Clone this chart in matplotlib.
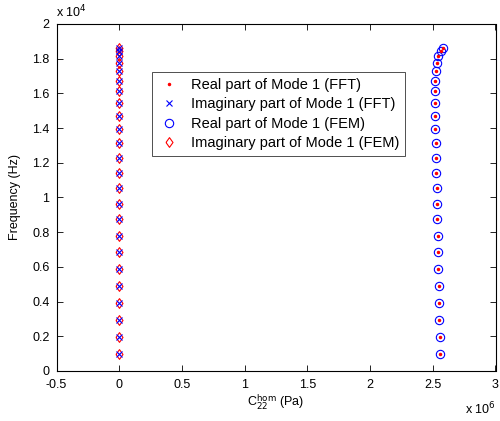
import matplotlib
matplotlib.use("Agg")
import matplotlib.pyplot as plt
from matplotlib.ticker import FuncFormatter

plt.rcParams["font.family"] = ["Liberation Sans", "DejaVu Sans"]
plt.rcParams["font.size"] = 9

# frequencies (Hz) of mode 1
freq = [1000, 1980, 2960, 3940, 4910, 5880, 6840, 7790, 8730, 9650,
        10550, 11430, 12290, 13120, 13920, 14690, 15420, 16110, 16740,
        17300, 17780, 18170, 18440, 18600]
# C22 hom (Pa)
real_fem = [2.556e6, 2.555e6, 2.553e6, 2.551e6, 2.548e6, 2.545e6, 2.542e6,
            2.539e6, 2.536e6, 2.533e6, 2.530e6, 2.527e6, 2.524e6, 2.522e6,
            2.520e6, 2.519e6, 2.518e6, 2.519e6, 2.521e6, 2.525e6, 2.533e6,
            2.545e6, 2.563e6, 2.582e6]
real_fft = list(real_fem)
imag_fem = [0.0] * len(freq)
imag_fft = [0.0] * len(freq)

# matlab-like diamond (wider than mpl "d")
diamond = [(-0.72, 0), (0, 1), (0.72, 0), (0, -1), (-0.72, 0)]

fig = plt.figure(figsize=(5, 4.21), dpi=100)
ax = fig.add_axes((0.113, 0.119, 0.878, 0.824))

sx = [v / 1e6 for v in real_fft]
ix = [v / 1e6 for v in imag_fft]
sfx = [v / 1e6 for v in real_fem]
ifx = [v / 1e6 for v in imag_fem]
fy = [f / 1e4 for f in freq]

ax.plot(sx, fy, ".", color="red", markersize=3, zorder=5,
        label="Real part of Mode 1 (FFT)")
ax.plot(ix, fy, "x", color="blue", markersize=4, markeredgewidth=0.8,
        zorder=5, label="Imaginary part of Mode 1 (FFT)")
ax.plot(sfx, fy, "o", color="blue", markerfacecolor="none", markersize=6,
        markeredgewidth=0.8, label="Real part of Mode 1 (FEM)")
ax.plot(ifx, fy, marker=diamond, linestyle="none", color="red",
        markerfacecolor="none", markersize=7, markeredgewidth=0.8,
        label="Imaginary part of Mode 1 (FEM)")

ax.set_xlim(-0.5, 3)
ax.set_ylim(0, 2)
ax.set_xticks([-0.5, 0, 0.5, 1, 1.5, 2, 2.5, 3])
ax.set_yticks([0, 0.2, 0.4, 0.6, 0.8, 1, 1.2, 1.4, 1.6, 1.8, 2])
fmt = FuncFormatter(lambda v, p: "%g" % round(v, 2))
ax.xaxis.set_major_formatter(fmt)
ax.yaxis.set_major_formatter(fmt)
ax.tick_params(direction="in", top=True, right=True, length=4, width=0.6)
ax.tick_params(axis="x", pad=6)
ax.tick_params(axis="y", pad=5)
for s in ax.spines.values():
    s.set_linewidth(0.8)

ax.set_xlabel(r"C$_{22}^{\mathrm{hom}}$ (Pa)", labelpad=1)
ax.set_ylabel("Frequency (Hz)", labelpad=8)
ax.text(0.0, 1.01, r"x 10$^{4}$", transform=ax.transAxes, ha="left",
        va="bottom")
ax.text(1.0, -0.085, r"x 10$^{6}$", transform=ax.transAxes, ha="right",
        va="top")

leg = ax.legend(loc="upper left", bbox_to_anchor=(0.217, 0.862),
                frameon=True, fancybox=False, edgecolor="black",
                fontsize=10.5, borderpad=0.4, labelspacing=0.38,
                handletextpad=0.7, handlelength=1.6, borderaxespad=0)
leg.get_frame().set_linewidth(0.6)

fig.savefig("out.png", dpi=100)
